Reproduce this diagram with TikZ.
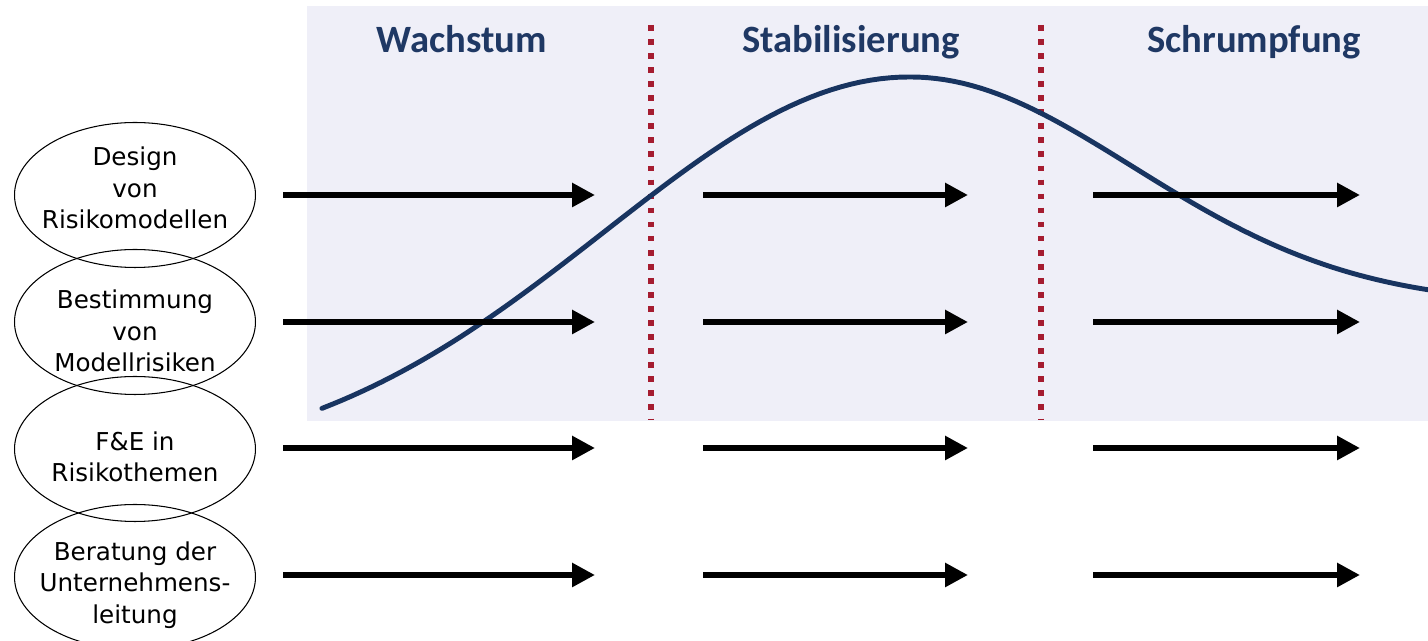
\documentclass[tikz,border=0pt]{standalone}
\usepackage{fontspec}
\setmainfont{DejaVu Sans}
\newfontfamily\headfont{Carlito}
\usetikzlibrary{shapes.geometric,arrows.meta}
\definecolor{bandbg}{RGB}{239,239,248}
\definecolor{curvenavy}{RGB}{24,52,96}
\definecolor{headnavy}{RGB}{31,56,100}
\definecolor{cutred}{RGB}{165,28,48}

\begin{document}
\begin{tikzpicture}[x=0.02cm, y=-0.02cm, >={Triangle[length=13pt,width=13pt]},
  topic/.style={draw, ellipse, line width=0.6pt, minimum width=4.82cm,
    minimum height=2.9cm, inner sep=0pt},
  topictext/.style={align=center, inner sep=0pt, font=\fontsize{14}{18}\selectfont},
  phase/.style={anchor=base, text=headnavy, font=\headfont\bfseries\fontsize{22}{26}\selectfont},
  flow/.style={->, line width=3.4pt},
  cut/.style={cutred, line width=3.2pt, dash pattern=on 3.2pt off 4.8pt}]
  \clip (0,0) rectangle (1428,641);

  % Life cycle background
  \fill[bandbg] (307,6) rectangle (1428,421);
  \coordinate (c1top) at (651,25);
  \coordinate (c1bot) at (651,420);
  \coordinate (c2top) at (1041,25);
  \coordinate (c2bot) at (1041,420);
  \draw[cut] (c1top) -- (c1bot);
  \draw[cut] (c2top) -- (c2bot);

  % rise up to the peak, then decay
  \draw[curvenavy, line width=2.8pt, line cap=round]
    plot[domain=322:910, samples=60] (\x, {470-393*exp(-((\x-910)/432)*((\x-910)/432))})
    -- plot[domain=910:1430, samples=60] (\x, {305-228*exp(-((\x-910)/315)*((\x-910)/315))});

  \node[phase] (wachstum) at (462,53) {Wachstum};
  \node[phase] (stabil) at (851,53) {Stabilisierung};
  \node[phase] (schrumpf) at (1254,53) {Schrumpfung};

  % Topics
  \node[topic] (design) at (135,195) {};
  \node[topic] (risk) at (135,322) {};
  \node[topic] (fue) at (135,449) {};
  \node[topic] (board) at (135,577) {};
  \node[topictext] (designtxt) at (135,188) {Design\\ von\\ Risikomodellen};
  \node[topictext] (risktxt) at (135,331) {Bestimmung\\ von\\ Modellrisiken};
  \node[topictext] (fuetxt) at (135,457) {F\&E in\\ Risikothemen};
  \node[topictext] (boardtxt) at (135,585) {Beratung der\\ Unternehmens-\\ leitung};

  % Arrows per phase
  \foreach \r/\y in {1/195,2/322,3/448,4/575}{
    \foreach \c/\a/\b in {1/283/595,2/703/968,3/1093/1360}{
      \coordinate (s\r\c) at (\a,\y);
      \coordinate (e\r\c) at (\b,\y);
      \draw[flow] (s\r\c) -- (e\r\c);
    }
  }
\end{tikzpicture}
\end{document}
